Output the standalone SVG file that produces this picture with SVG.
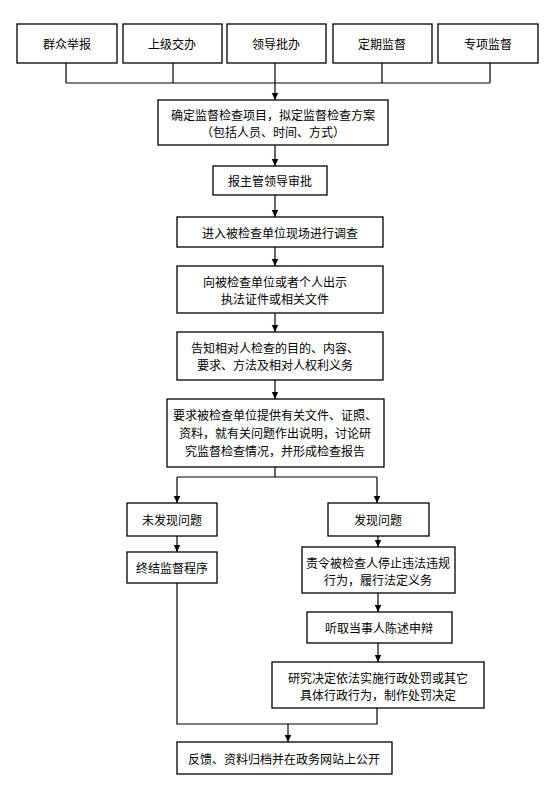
<svg xmlns="http://www.w3.org/2000/svg" width="554" height="800" viewBox="0 0 554 800">
<style>
.box{fill:#fff;stroke:#000;stroke-width:1.3}
text{font-family:"Noto Sans CJK SC","Noto Sans",sans-serif;font-size:12px;fill:#000;text-anchor:middle;dominant-baseline:central}
.ln{fill:none;stroke:#000;stroke-width:1.2}
.ar{fill:none;stroke:#000;stroke-width:1.2;marker-end:url(#ah)}
</style>
<defs>
<marker id="ah" markerWidth="8" markerHeight="8" refX="7" refY="4" orient="auto" markerUnits="userSpaceOnUse">
<path d="M0,0.8 L7,4 L0,7.2 Z" fill="#000"/>
</marker>
</defs>
<rect width="554" height="800" fill="#fff"/>
<g id="connectors">
<path class="ln" d="M66,63V83M173,63V83M382,63V83M490,63V83M66,83H490"/>
<path class="ar" d="M275,63V100"/>
<path class="ar" d="M275,145V166"/>
<path class="ar" d="M275,195V217"/>
<path class="ar" d="M275,247V266"/>
<path class="ar" d="M275,313V332"/>
<path class="ar" d="M275,380V399"/>
<path class="ln" d="M275,467V477M177,477H377"/>
<path class="ar" d="M177,477V503"/>
<path class="ar" d="M377,477V503"/>
<path class="ar" d="M177,536V552"/>
<path class="ar" d="M378,536V547"/>
<path class="ar" d="M378,593V612"/>
<path class="ar" d="M378,643V662"/>
<path class="ln" d="M177,583V724H377V708"/>
<path class="ar" d="M288,724V742"/>
</g>
<g id="n1"><rect class="box" x="17" y="24" width="100" height="39"/><text x="67" y="43">群众举报</text></g>
<g id="n2"><rect class="box" x="123" y="24" width="99" height="39"/><text x="172" y="43">上级交办</text></g>
<g id="n3"><rect class="box" x="227" y="24" width="99" height="39"/><text x="276" y="43">领导批办</text></g>
<g id="n4"><rect class="box" x="333" y="24" width="99" height="39"/><text x="382" y="43">定期监督</text></g>
<g id="n5"><rect class="box" x="438" y="24" width="100" height="39"/><text x="488" y="43">专项监督</text></g>
<g id="n6"><rect class="box" x="158" y="100" width="230" height="45"/><text x="273" y="114">确定监督检查项目，拟定监督检查方案</text><text x="273" y="131">（包括人员、时间、方式）</text></g>
<g id="n7"><rect class="box" x="213" y="166" width="114" height="29"/><text x="270" y="180.5">报主管领导审批</text></g>
<g id="n8"><rect class="box" x="177" y="217" width="206" height="30"/><text x="280" y="232">进入被检查单位现场进行调查</text></g>
<g id="n9"><rect class="box" x="177" y="266" width="206" height="47"/><text x="275" y="281">向被检查单位或者个人出示</text><text x="275" y="298">执法证件或相关文件</text></g>
<g id="n10"><rect class="box" x="177" y="332" width="206" height="48"/><text x="275" y="347">告知相对人检查的目的、内容、</text><text x="275" y="364">要求、方法及相对人权利义务</text></g>
<g id="n11"><rect class="box" x="167" y="399" width="217" height="68"/><text x="275" y="414">要求被检查单位提供有关文件、证照、</text><text x="275" y="432">资料，就有关问题作出说明，讨论研</text><text x="275" y="450">究监督检查情况，并形成检查报告</text></g>
<g id="n12"><rect class="box" x="127" y="503" width="90" height="33"/><text x="172" y="519.5">未发现问题</text></g>
<g id="n13"><rect class="box" x="127" y="552" width="90" height="31"/><text x="172" y="567.5">终结监督程序</text></g>
<g id="n14"><rect class="box" x="328" y="503" width="101" height="33"/><text x="378" y="519.5">发现问题</text></g>
<g id="n15"><rect class="box" x="302" y="547" width="153" height="46"/><text x="378" y="562">责令被检查人停止违法违规</text><text x="378" y="579">行为，履行法定义务</text></g>
<g id="n16"><rect class="box" x="307" y="612" width="145" height="31"/><text x="379" y="627.5">听取当事人陈述申辩</text></g>
<g id="n17"><rect class="box" x="272" y="662" width="212" height="46"/><text x="378" y="677">研究决定依法实施行政处罚或其它</text><text x="378" y="694">具体行政行为，制作处罚决定</text></g>
<g id="n18"><rect class="box" x="177" y="742" width="215" height="32"/><text x="284" y="758">反馈、资料归档并在政务网站上公开</text></g>
</svg>
